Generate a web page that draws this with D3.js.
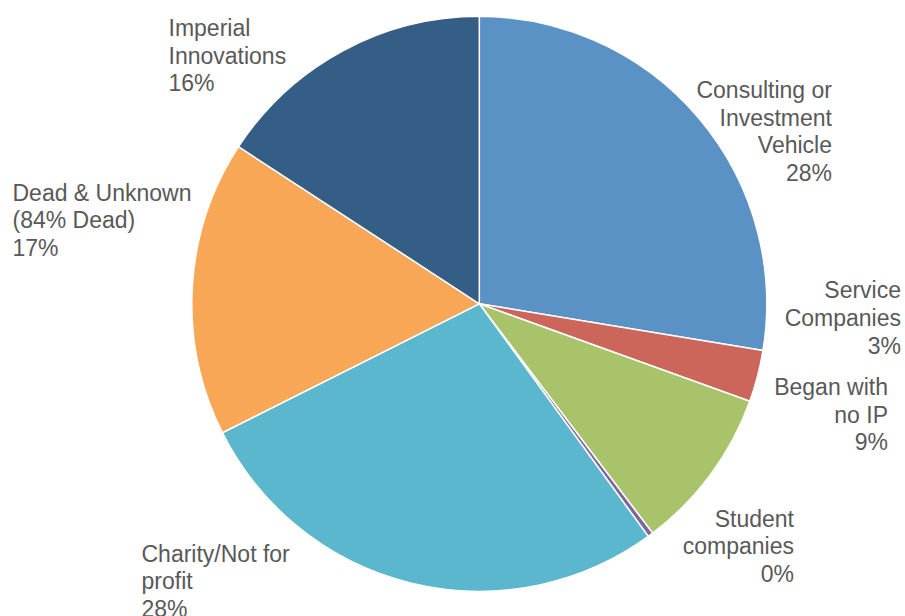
<!DOCTYPE html>
<html><head><meta charset="utf-8">
<script src="https://cdn.jsdelivr.net/npm/d3@7"></script>
<style>html,body{margin:0;padding:0;background:#fff;}svg{display:block;}</style>
</head><body>
<svg id="chart" width="905" height="616"></svg>
<script>
const categories = ["Consulting or Investment Vehicle","Service Companies","Began with no IP","Student companies","Charity/Not for profit","Dead & Unknown (84% Dead)","Imperial Innovations"];
const values = [27.6, 2.9, 9.2, 0.3, 27.6, 16.6, 15.8];
const colors = ["#5b92c6","#cc665a","#a9c36b","#8165a2","#5ab7cd","#f7a756","#345e86"];
const labelLines = [["Consulting or","Investment","Vehicle"],["Service","Companies"],["Began with","no IP"],["Student","companies"],["Charity/Not for","profit"],["Dead & Unknown","(84% Dead)"],["Imperial","Innovations"]];

const svg = d3.select("#chart");
const cx = 479.3, cy = 303.8, r = 287.5;
const total = d3.sum(values);
const pie = d3.pie().sort(null).value(d => d)(values);
const arc = d3.arc().innerRadius(0).outerRadius(r);
const g = svg.append("g").attr("transform", `translate(${cx},${cy})`);
g.selectAll("path").data(pie).join("path")
  .attr("d", arc).attr("fill", (d,i) => colors[i])
  .attr("stroke", "#fff").attr("stroke-width", 1.5).attr("stroke-linejoin","round");

// label anchors: [x, first baseline, anchor]
const labelPos = [[832,98,"end"],[901,298.3,"end"],[888,395,"end"],[794,526.7,"end"],[141.5,561.7,"start"],[12.5,200.7,"start"],[168.5,36,"start"]];
const lh = 27.6;
categories.forEach((c,i) => {
  const lines = labelLines[i].concat([Math.round(values[i]/total*100) + "%"]);
  const t = svg.append("text").attr("text-anchor", labelPos[i][2])
    .attr("font-family","'Liberation Sans', Arial, Helvetica, sans-serif").attr("font-size", 23).attr("fill","#595959");
  lines.forEach((l,j) => t.append("tspan").attr("x", labelPos[i][0]).attr("y", labelPos[i][1] + j*lh).text(l));
});
</script>
</body></html>
